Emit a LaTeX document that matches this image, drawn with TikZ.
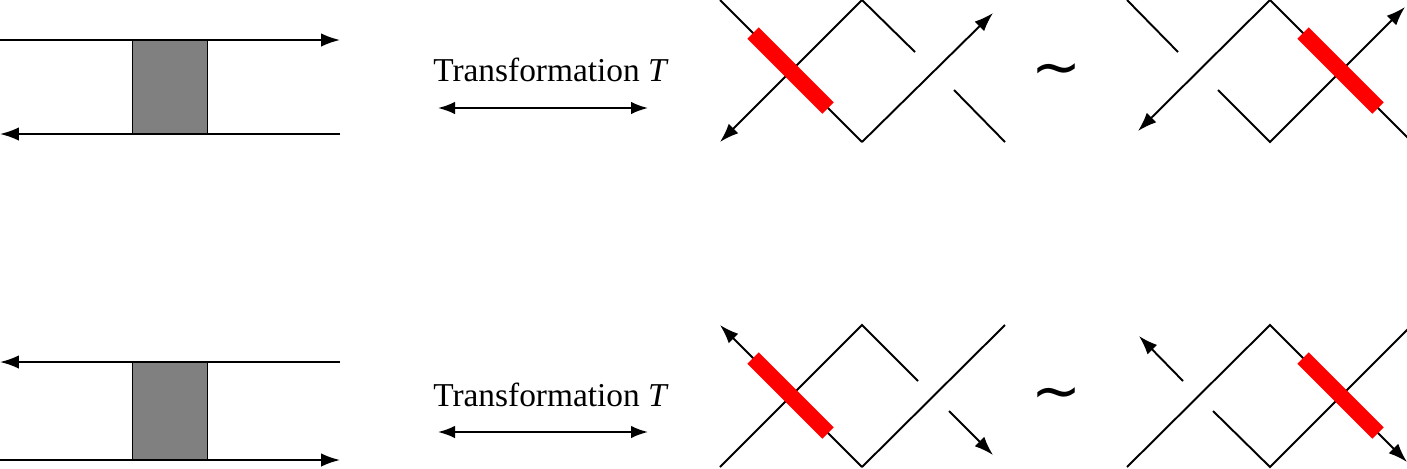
\documentclass[tikz,border=0pt]{standalone}
\usepackage{fontspec}
\setmainfont{Liberation Serif}
\newfontfamily\symfont{DejaVu Sans}
\usetikzlibrary{arrows.meta}
\begin{document}
\begin{tikzpicture}[x=0.02cm,y=-0.02cm,line width=1.1pt,
  arr/.style={-{Latex[length=0.38cm,width=0.27cm]}},
  redbar/.style={red,line width=0.32cm},
  box/.style={draw=black,fill=gray,line width=0.6pt},
  lbl/.style={font=\fontsize{19}{22}\selectfont},
  tld/.style={font=\symfont\fontsize{34}{38}\selectfont},
  dbl/.style={{Latex[length=0.34cm,width=0.25cm]}-{Latex[length=0.34cm,width=0.25cm]}}]
\useasboundingbox (0,0) rectangle (1407,468);
% left boxes
\node[box,minimum width=75*0.02cm,minimum height=94*0.02cm,inner sep=0pt,anchor=north west] (gt) at (132,40) {};
\node[box,minimum width=75*0.02cm,minimum height=98*0.02cm,inner sep=0pt,anchor=north west] (gb) at (132,362) {};
\coordinate (t1a) at (0,40); \coordinate (t1b) at (340,40);
\coordinate (t2a) at (340,134); \coordinate (t2b) at (0,134);
\draw[arr] (t1a) -- (t1b);
\draw[arr] (t2a) -- (t2b);
\coordinate (b1a) at (340,362); \coordinate (b1b) at (0,362);
\coordinate (b2a) at (0,460); \coordinate (b2b) at (340,460);
\draw[arr] (b1a) -- (b1b);
\draw[arr] (b2a) -- (b2b);
% labels
\node[lbl] (lt) at (551,70) {Transformation \textit{T}};
\node[lbl] (lb) at (551,395) {Transformation \textit{T}};
\coordinate (ta1) at (438,108); \coordinate (ta2) at (648,108);
\coordinate (ba1) at (438,432); \coordinate (ba2) at (648,432);
\draw[dbl] (ta1) -- (ta2);
\draw[dbl] (ba1) -- (ba2);
\node[tld] (s1) at (1057,76) {∼};
\node[tld] (s2) at (1057,400) {∼};
% knot 1 (top)
\draw (720,0) -- (862,142);
\draw[arr] (915,52) -- (862,0) -- (720,142);
\draw[redbar] (753,33) -- (828,108);
\draw[arr] (862,142) -- (993,13);
\draw (954,90) -- (1005,142);
% knot 2 (top)
\draw (1127,0) -- (1178,52);
\draw[arr] (1412,142) -- (1270,0) -- (1138,131);
\draw[arr] (1218,90) -- (1270,142) -- (1405,7);
\draw[redbar] (1303,33) -- (1378,108);
% knot 3 (bottom)
\draw[arr] (862,467) -- (720,325);
\draw (720,467) -- (862,325) -- (918,381);
\draw[redbar] (753,358) -- (828,433);
\draw (862,467) -- (1005,325);
\draw[arr] (949,411) -- (993,455);
% knot 4 (bottom)
\draw[arr] (1183,381) -- (1139,336);
\draw[arr] (1127,467) -- (1270,325) -- (1407,462);
\draw (1213,411) -- (1270,467) -- (1412,325);
\draw[redbar] (1303,358) -- (1378,433);
\end{tikzpicture}
\end{document}
